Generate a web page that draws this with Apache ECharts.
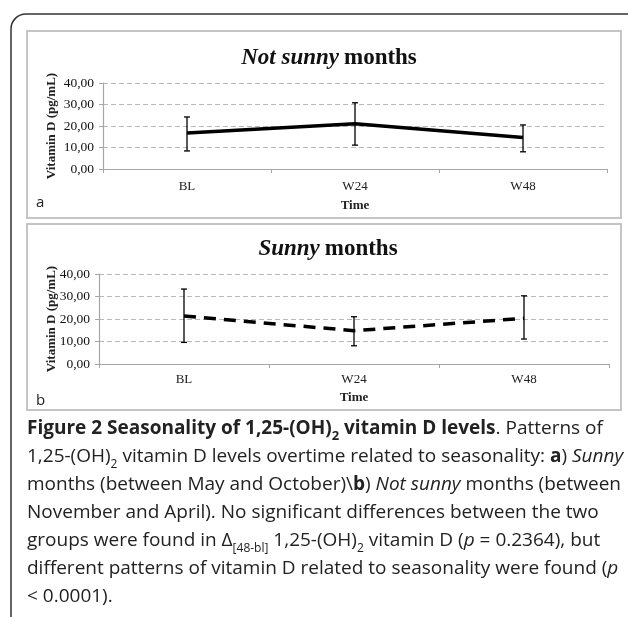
<!DOCTYPE html>
<html>
<head>
<meta charset="utf-8">
<script src="https://cdn.jsdelivr.net/npm/echarts@6/dist/echarts.min.js"></script>
<style>
  html, body { margin: 0; padding: 0; background: #fff; }
  #chart { width: 628px; height: 617px; }
</style>
</head>
<body>
<div id="chart"></div>
<script>
// 数据
var categories = ['BL', 'W24', 'W48'];
var yTicks = [0, 10, 20, 30, 40];
// a) Not sunny months
var notSunnyMean = [16.7, 21.0, 14.6];
var notSunnyLow = [8.4, 11.1, 8.0];
var notSunnyHigh = [24.2, 30.8, 20.5];
// b) Sunny months
var sunnyMean = [21.3, 14.8, 20.3];
var sunnyLow = [9.6, 8.1, 11.1];
var sunnyHigh = [33.3, 21.0, 30.3];

var serif = '"Liberation Serif", "DejaVu Serif", serif';
var sans = '"Open Sans", "Noto Sans", sans-serif';

function fmt(v) { return v.toFixed(2).replace('.', ','); }

function errData(low, high) {
    return categories.map(function (c, i) { return [i, low[i], high[i]]; });
}

// 误差线
function errRender(params, api) {
    var top = api.coord([api.value(0), api.value(2)]);
    var bot = api.coord([api.value(0), api.value(1)]);
    var cap = 3;
    var st = { stroke: '#000', lineWidth: 1.3 };
    return {
        type: 'group',
        children: [
            { type: 'line', shape: { x1: top[0], y1: top[1], x2: bot[0], y2: bot[1] }, style: st },
            { type: 'line', shape: { x1: top[0] - cap, y1: top[1], x2: top[0] + cap, y2: top[1] }, style: st },
            { type: 'line', shape: { x1: bot[0] - cap, y1: bot[1], x2: bot[0] + cap, y2: bot[1] }, style: st }
        ]
    };
}

function xAxisOf(idx, labelMargin, nameGap) {
    return {
        type: 'category', gridIndex: idx, data: categories, boundaryGap: true,
        name: 'Time', nameLocation: 'middle', nameGap: nameGap, nameMoveOverlap: false,
        nameTextStyle: { fontFamily: serif, fontWeight: 'bold', fontSize: 13, color: '#222' },
        axisLine: { lineStyle: { color: '#a6a6a6', width: 1.2 } },
        axisTick: { show: true, length: 4, lineStyle: { color: '#a6a6a6' } },
        axisLabel: { fontFamily: serif, fontSize: 13, color: '#222', margin: labelMargin },
        splitLine: { show: false }
    };
}

function yAxisOf(idx, nameGap) {
    return {
        type: 'value', gridIndex: idx, min: 0, max: 40, interval: 10,
        name: 'Vitamin D (pg/mL)', nameLocation: 'middle', nameGap: nameGap, nameMoveOverlap: false,
        nameTextStyle: { fontFamily: serif, fontWeight: 'bold', fontSize: 13, color: '#222' },
        axisLine: { show: true, lineStyle: { color: '#a6a6a6', width: 1.2 } },
        axisTick: { show: true, length: 4, lineStyle: { color: '#a6a6a6' } },
        axisLabel: { fontFamily: serif, fontSize: 13.5, color: '#111', margin: 9,
            formatter: function (v) { return yTicks.indexOf(v) >= 0 ? fmt(v) : ''; } },
        splitLine: { show: true, lineStyle: { color: '#b8b8b8', type: [5, 3], width: 1 } }
    };
}

var captionLines = [
    '{b|Figure 2 Seasonality of 1,25-(OH)}{bs|2}{b| vitamin D levels}{r|. Patterns of}',
    '{r|1,25-(OH)}{s|2}{r| vitamin D levels overtime related to seasonality: }{b|a}{r|) }{i|Sunny}',
    '{r|months (between May and October)\\}{b|b}{r|) }{i|Not sunny}{r| months (between}',
    '{r|November and April). No significant differences between the two}',
    '{r|groups were found in Δ}{s|[48-bl]}{r| 1,25-(OH)}{s|2}{r| vitamin D (}{i|p}{r| = 0.2364), but}',
    '{r|different patterns of vitamin D related to seasonality were found (}{i|p}',
    '{r|< 0.0001).}'
];

var base = { fontFamily: sans, fontSize: 19, color: '#2a2a2a', lineHeight: 28 };
var subBase = { fontFamily: sans, fontSize: 12, color: '#2a2a2a', lineHeight: 28, verticalAlign: 'bottom' };

var myChart = echarts.init(document.getElementById('chart'), null, { renderer: 'canvas' });
var titleRich = {
    i: { fontFamily: serif, fontStyle: 'italic', fontWeight: 'bold', fontSize: 23, color: '#111' },
    b: { fontFamily: serif, fontWeight: 'bold', fontSize: 23, color: '#111' }
};
var option = {
    animation: false,
    backgroundColor: '#fff',
    title: [
        { text: '{i|Not sunny} {b|months}', left: 324, top: 42, textAlign: 'center',
          textStyle: { rich: titleRich } },
        { text: '{i|Sunny} {b|months}', left: 323, top: 233, textAlign: 'center',
          textStyle: { rich: titleRich } }
    ],
    grid: [
        { left: 103, right: 21, top: 83, height: 86 },
        { left: 99, right: 19, top: 274, height: 90 }
    ],
    xAxis: [xAxisOf(0, 11, 30), xAxisOf(1, 9, 27)],
    yAxis: [yAxisOf(0, 45), yAxisOf(1, 41)],
    series: [
        { type: 'line', xAxisIndex: 0, yAxisIndex: 0, data: notSunnyMean, symbol: 'none',
          lineStyle: { color: '#000', width: 3.5 }, z: 3 },
        { type: 'custom', xAxisIndex: 0, yAxisIndex: 0, data: errData(notSunnyLow, notSunnyHigh),
          renderItem: errRender, z: 4 },
        { type: 'line', xAxisIndex: 1, yAxisIndex: 1, data: sunnyMean, symbol: 'none',
          lineStyle: { color: '#000', width: 3.5, type: [12, 8] }, z: 3 },
        { type: 'custom', xAxisIndex: 1, yAxisIndex: 1, data: errData(sunnyLow, sunnyHigh),
          renderItem: errRender, z: 4 }
    ],
    graphic: [
        // 外框
        { type: 'rect', shape: { x: 11, y: 14, width: 640, height: 640, r: 15 },
          style: { fill: null, stroke: '#333', lineWidth: 1.5 }, z: 0 },
        // 面板框
        { type: 'rect', shape: { x: 27, y: 31, width: 594, height: 187 },
          style: { fill: null, stroke: '#c4c4c4', lineWidth: 2 }, z: 0 },
        { type: 'rect', shape: { x: 27, y: 224, width: 594, height: 186 },
          style: { fill: null, stroke: '#c4c4c4', lineWidth: 2 }, z: 0 },
        { type: 'text', left: 36, top: 195, style: { text: 'a', font: '15px ' + sans, fill: '#222' } },
        { type: 'text', left: 36, top: 393, style: { text: 'b', font: '15px ' + sans, fill: '#222' } },
        { type: 'text', left: 27, top: 419,
          style: { text: captionLines.join('\n'), fill: '#222',
              rich: {
                  r: base,
                  b: Object.assign({}, base, { fontWeight: 'bold' }),
                  i: Object.assign({}, base, { fontStyle: 'italic' }),
                  s: subBase,
                  bs: Object.assign({}, subBase, { fontWeight: 'bold', fontSize: 13 })
              } } }
    ]
};
myChart.setOption(option);
</script>
</body>
</html>
